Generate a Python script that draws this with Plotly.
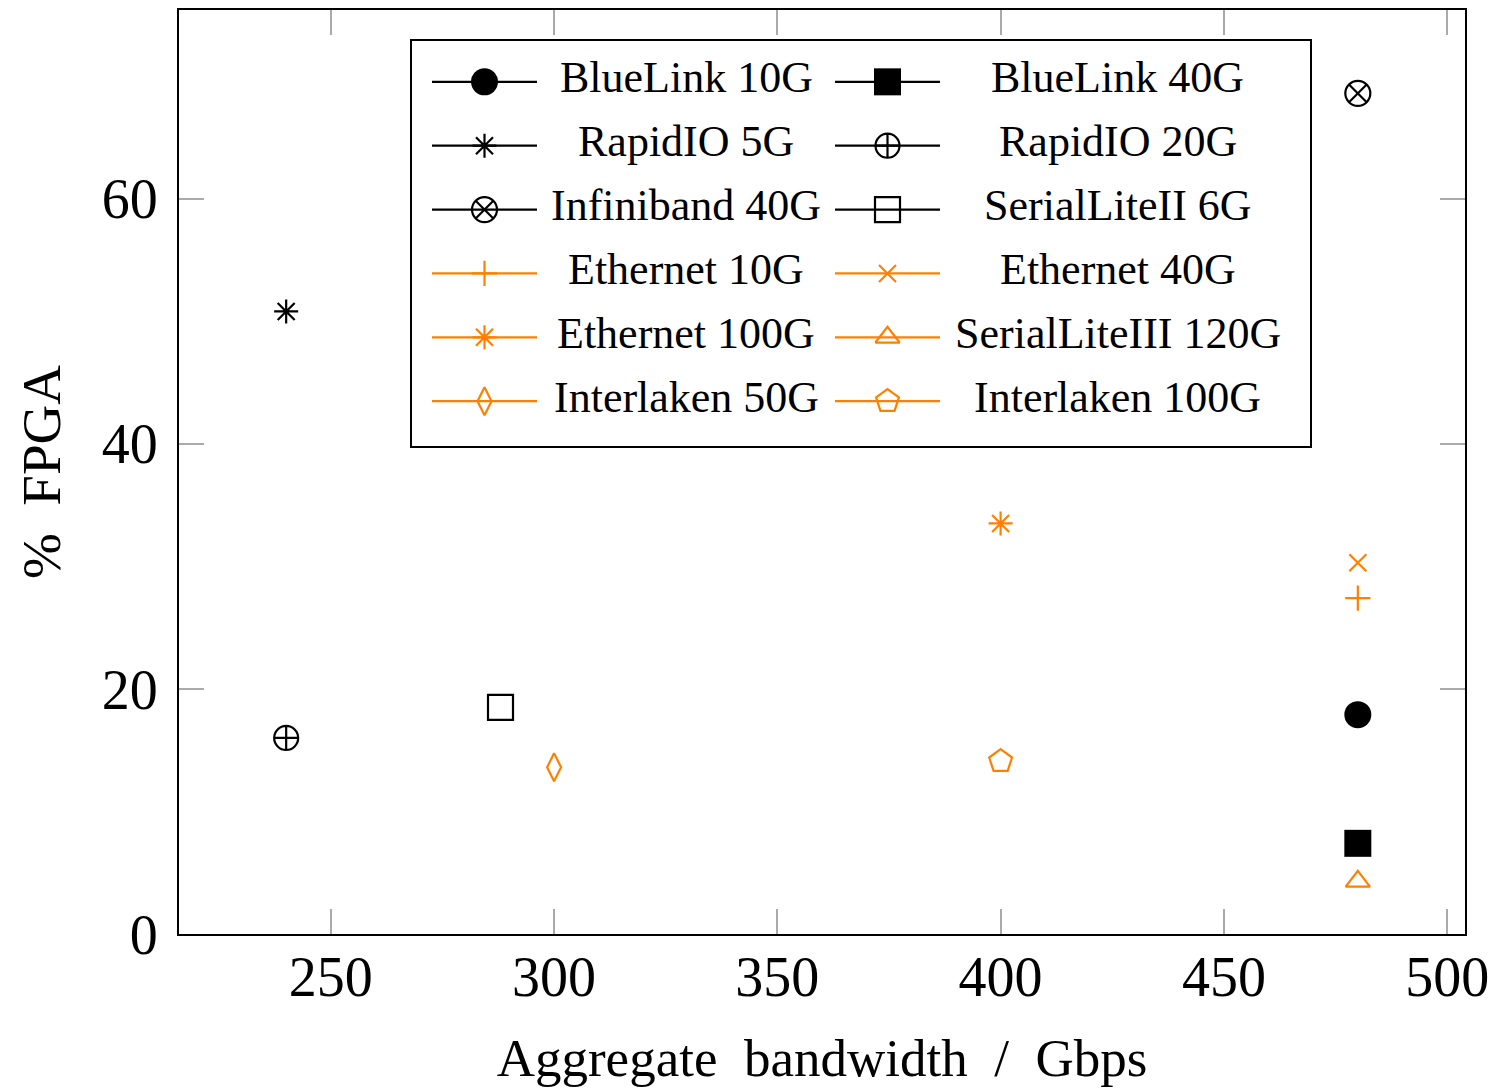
import plotly.graph_objects as go

# ---- data ----
names = ["BlueLink 10G", "BlueLink 40G", "RapidIO 5G", "RapidIO 20G",
         "Infiniband 40G", "SerialLiteII 6G", "Ethernet 10G", "Ethernet 40G",
         "Ethernet 100G", "SerialLiteIII 120G", "Interlaken 50G", "Interlaken 100G"]
bandwidth = [480, 480, 240, 240, 480, 288, 480, 480, 400, 480, 300, 400]
fpga_pct = [17.9, 7.4, 50.8, 16.0, 68.6, 18.5, 27.4, 30.3, 33.5, 4.3, 13.6, 14.1]
x_ticks = [250, 300, 350, 400, 450, 500]
y_ticks = [0, 20, 40, 60]

# ---- styles ----
BLACK = "#000000"
ORANGE = "#ff8000"
colors = [BLACK] * 6 + [ORANGE] * 6
symbols = ["circle", "square", "asterisk-open", "circle-cross-open",
           "circle-x-open", "square-open", "cross-thin-open", "x-thin-open",
           "asterisk-open", "triangle-up-open", "diamond-tall-open", "pentagon-open"]
sizes = [27, 27, 20, 24, 25, 25, 18, 17, 20, 21, 20, 24]

FONT = "Liberation Serif"

# plot-area geometry (pixels); the page adds an 8px body margin
PLOT_W, PLOT_H = 1286, 926

# legend layout (pixels inside the plot area, top-left origin)
LEG_BOX = (232, 30, 1132, 438)
ROW_Y0, ROW_DY = 72, 64
LINE_X0, LINE_LEN, COL_DX = 253, 105, 403
TEXT_X0, TEXT_DX = 507, 431.5

fig = go.Figure()

# data points
for n, xv, yv, c, s, sz in zip(names, bandwidth, fpga_pct, colors, symbols, sizes):
    filled = not s.endswith("open")
    fig.add_trace(go.Scatter(
        x=[xv], y=[yv], name=n, mode="markers", showlegend=False,
        marker=dict(symbol=s, size=sz, color=c,
                    line=dict(color=c, width=2.2 if not filled else 0)),
    ))

# legend (two columns, row-major), drawn on a hidden overlay axis in pixel units
annotations = []
for i, (n, c, s, sz) in enumerate(zip(names, colors, symbols, sizes)):
    row, col = divmod(i, 2)
    yc = ROW_Y0 + ROW_DY * row
    lx0 = LINE_X0 + COL_DX * col
    filled = not s.endswith("open")
    fig.add_trace(go.Scatter(
        x=[lx0, lx0 + LINE_LEN], y=[yc, yc], mode="lines", xaxis="x2", yaxis="y2",
        line=dict(color=c, width=2.2), showlegend=False, hoverinfo="skip",
    ))
    fig.add_trace(go.Scatter(
        x=[lx0 + LINE_LEN / 2], y=[yc], mode="markers", xaxis="x2", yaxis="y2",
        marker=dict(symbol=s, size=sz, color=c,
                    line=dict(color=c, width=2.2 if not filled else 0)),
        showlegend=False, hoverinfo="skip",
    ))
    annotations.append(dict(
        x=TEXT_X0 + TEXT_DX * col, y=yc - 4, xref="x2", yref="y2",
        text=n, showarrow=False, xanchor="center", yanchor="middle",
        font=dict(family=FONT, size=44, color="black"),
    ))

fig.add_shape(type="rect", xref="x2", yref="y2",
              x0=LEG_BOX[0], y0=LEG_BOX[1], x1=LEG_BOX[2], y1=LEG_BOX[3],
              line=dict(color="black", width=2), fillcolor="white", layer="below")

fig.update_layout(
    width=1489, height=1080,
    margin=dict(l=171, r=32, t=0, b=154),
    plot_bgcolor="white", paper_bgcolor="white",
    font=dict(family=FONT, color="black", size=56),
    showlegend=False,
    annotations=annotations,
    xaxis=dict(
        range=[216, 504], tickvals=x_ticks, ticks="inside", ticklen=25,
        tickcolor="#aaaaaa", tickwidth=1.5, showgrid=False, zeroline=False,
        showline=True, linecolor="black", linewidth=2, mirror="ticks",
        tickfont=dict(size=56), ticklabelstandoff=-7,
        title=dict(text="Aggregate\u2002bandwidth\u2002/\u2002Gbps",
                   font=dict(size=53), standoff=32),
    ),
    yaxis=dict(
        range=[0, 75.4], tickvals=y_ticks, ticks="inside", ticklen=25,
        tickcolor="#aaaaaa", tickwidth=1.5, showgrid=False, zeroline=False,
        showline=True, linecolor="black", linewidth=2, mirror="ticks",
        tickfont=dict(size=56), ticklabelstandoff=8,
        title=dict(text="%\u2002FPGA", font=dict(size=55), standoff=24),
    ),
    xaxis2=dict(overlaying="x", anchor="y2", range=[0, PLOT_W], visible=False,
                fixedrange=True),
    yaxis2=dict(overlaying="y", anchor="x2", range=[PLOT_H, 0], visible=False,
                fixedrange=True),
)

fig.write_html("out.html")
